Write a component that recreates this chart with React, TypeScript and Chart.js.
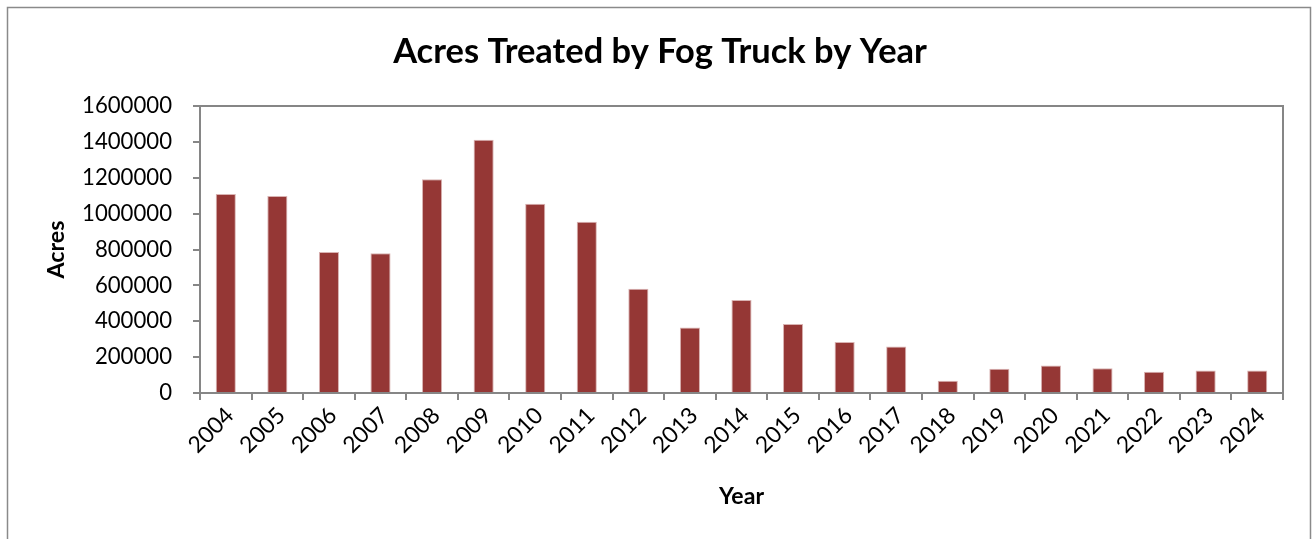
import React, { useEffect, useRef } from "react";
import { Chart, registerables } from "chart.js";

Chart.register(...registerables);

const TITLE = "Acres Treated by Fog Truck by Year";
const X_TITLE = "Year";
const Y_TITLE = "Acres";
const SERIES_LABEL = "Acres";

const years: string[] = [
  "2004", "2005", "2006", "2007", "2008", "2009", "2010", "2011", "2012", "2013", "2014",
  "2015", "2016", "2017", "2018", "2019", "2020", "2021", "2022", "2023", "2024",
];

const acres: number[] = [
  1110000, 1098000, 786000, 779000, 1191000, 1412000, 1055000, 955000, 581000, 365000, 518000,
  384000, 285000, 259000, 68000, 135000, 154000, 138000, 119000, 126000, 125000,
];

const Y_MIN = 0;
const Y_MAX = 1600000;
const Y_STEP = 200000;

const FAMILY = 'Lato, "Open Sans", "DejaVu Sans", sans-serif';

function fitSize(text: string, weight: string, target: number): number {
  const c = document.createElement("canvas").getContext("2d");
  if (!c) return 20;
  c.font = `${weight} 100px ${FAMILY}`;
  const w = c.measureText(text).width;
  return (100 * target) / w;
}

export default function App() {
  const ref = useRef<HTMLCanvasElement | null>(null);

  useEffect(() => {
    document.body.style.margin = "0";
    const canvas = ref.current;
    if (!canvas) return;

    const titleSize = fitSize(TITLE, "bold", 534);
    const tickSize = fitSize("1600000", "normal", 90);
    const xTickSize = fitSize("2004", "normal", 53);
    const xTitleSize = fitSize(X_TITLE, "bold", 45);
    const yTitleSize = fitSize(Y_TITLE, "bold", 58);

    const GRAY = "#868686";

    const decor = {
      id: "decor",
      afterDraw(chart: any) {
        const { ctx, chartArea: a } = chart;
        ctx.save();
        ctx.strokeStyle = GRAY;
        ctx.lineWidth = 2;
        ctx.strokeRect(a.left, a.top, a.right - a.left, a.bottom - a.top);
        ctx.strokeStyle = "#8a8a8a";
        ctx.lineWidth = 1.5;
        ctx.beginPath();
        ctx.moveTo(7.5, 560);
        ctx.lineTo(7.5, 7.5);
        ctx.lineTo(1310.5, 7.5);
        ctx.lineTo(1310.5, 560);
        ctx.stroke();
        ctx.fillStyle = "#000";
        ctx.font = `bold ${titleSize}px ${FAMILY}`;
        ctx.textAlign = "center";
        ctx.textBaseline = "alphabetic";
        ctx.fillText(TITLE, 660, 63);
        ctx.restore();
      },
    };

    const chart = new Chart(canvas, {
      type: "bar",
      data: {
        labels: years,
        datasets: [
          {
            label: SERIES_LABEL,
            data: acres,
            backgroundColor: "#953735",
            borderColor: "#d9b3b2",
            borderWidth: { left: 1, right: 1, top: 1, bottom: 0 },
            categoryPercentage: 1,
            barPercentage: 0.39,
          },
        ],
      },
      options: {
        responsive: false,
        animation: false,
        devicePixelRatio: 1,
        layout: { padding: { top: 106, right: 29, bottom: 0, left: 0 } },
        plugins: {
          legend: { display: false },
          title: { display: false },
          tooltip: { enabled: false },
        },
        scales: {
          x: {
            afterFit: (s: any) => {
              s.height = 146;
            },
            grid: {
              offset: true,
              drawOnChartArea: false,
              drawTicks: true,
              tickLength: 7,
              color: GRAY,
              tickColor: GRAY,
              lineWidth: 2,
            },
            border: { display: true, color: GRAY, width: 2 },
            ticks: {
              minRotation: 45,
              maxRotation: 45,
              autoSkip: false,
              padding: 2,
              labelOffset: 4,
              color: "#000",
              font: { family: FAMILY, size: xTickSize },
            },
            title: {
              display: true,
              text: X_TITLE,
              color: "#000",
              font: { family: FAMILY, size: xTitleSize, weight: "bold" },
              padding: { top: 0, bottom: 42 - xTitleSize * 0.6 },
            },
          },
          y: {
            min: Y_MIN,
            max: Y_MAX,
            afterFit: (s: any) => {
              s.width = 200;
            },
            grid: {
              drawOnChartArea: false,
              drawTicks: true,
              tickLength: 7,
              color: GRAY,
              tickColor: GRAY,
              lineWidth: 2,
            },
            border: { display: true, color: GRAY, width: 2 },
            ticks: {
              stepSize: Y_STEP,
              padding: 21,
              color: "#000",
              font: { family: FAMILY, size: tickSize },
              callback: (v: any) => String(v),
            },
            title: {
              display: true,
              text: Y_TITLE,
              color: "#000",
              font: { family: FAMILY, size: yTitleSize, weight: "bold" },
              padding: { top: 57 - yTitleSize * 0.6, bottom: 0 },
            },
          },
        },
      },
      plugins: [decor],
    });

    return () => chart.destroy();
  }, []);

  return (
    <div style={{ position: "fixed", left: 0, top: 0, width: 1312, height: 539, background: "#fff" }}>
      <canvas ref={ref} width={1312} height={539} style={{ display: "block" }} />
    </div>
  );
}
